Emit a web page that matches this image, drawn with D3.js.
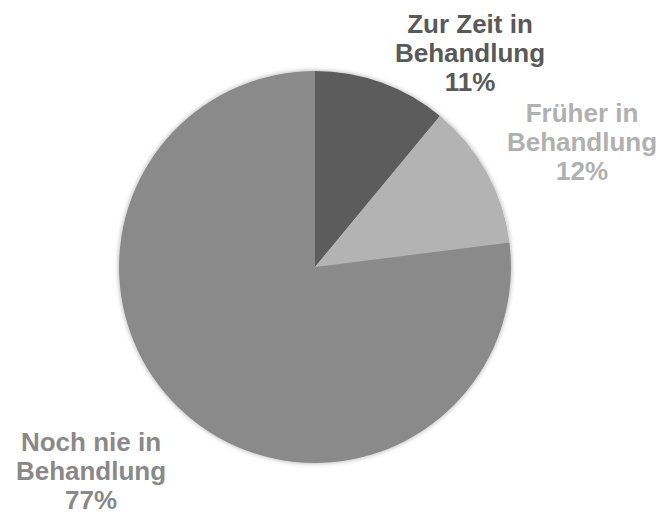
<!DOCTYPE html>
<html>
<head>
<meta charset="utf-8">
<script src="https://cdn.jsdelivr.net/npm/d3@7"></script>
<style>
  html, body { margin: 0; padding: 0; background: #fff; }
  svg { display: block; }
</style>
</head>
<body>
<svg id="chart" width="661" height="514"></svg>
<script>
// Treatment status shares (%)
const categories = ["Zur Zeit in Behandlung", "Früher in Behandlung", "Noch nie in Behandlung"];
const labelLines = [["Zur Zeit in", "Behandlung"], ["Früher in", "Behandlung"], ["Noch nie in", "Behandlung"]];
const values = [11, 12, 77];
const sliceColors = ["#5c5c5c", "#b3b3b3", "#8a8a8a"];
const labelColors = ["#595959", "#b0b0b0", "#898989"];
// label anchor (centre x, first baseline y)
const labelPos = [[470, 33], [582, 122], [91, 451]];

const svg = d3.select("#chart");
const cx = 315, cy = 267, r = 196;

const defs = svg.append("defs");
const f = defs.append("filter").attr("id", "shadow")
  .attr("x", "-10%").attr("y", "-10%").attr("width", "120%").attr("height", "120%");
f.append("feGaussianBlur").attr("in", "SourceAlpha").attr("stdDeviation", 2.5).attr("result", "b");
f.append("feComponentTransfer").attr("in", "b").attr("result", "s")
  .append("feFuncA").attr("type", "linear").attr("slope", 0.35);
const m = f.append("feMerge");
m.append("feMergeNode").attr("in", "s");
m.append("feMergeNode").attr("in", "SourceGraphic");

const pie = d3.pie().sort(null).value(d => d)(values);
const arc = d3.arc().innerRadius(0).outerRadius(r);

const g = svg.append("g").attr("transform", `translate(${cx},${cy})`);
g.append("g").attr("filter", "url(#shadow)")
  .selectAll("path").data(pie).join("path")
  .attr("d", arc)
  .attr("fill", (d, i) => sliceColors[i]);

const lh = 29;
values.forEach((v, i) => {
  const t = svg.append("text")
    .attr("text-anchor", "middle")
    .style("font-family", "'Liberation Sans', Arial, sans-serif")
    .style("font-weight", "bold")
    .style("font-size", "26px")
    .attr("fill", labelColors[i]);
  const lines = labelLines[i].concat([v + "%"]);
  lines.forEach((s, k) => {
    t.append("tspan").attr("x", labelPos[i][0]).attr("y", labelPos[i][1] + k * lh).text(s);
  });
});
</script>
</body>
</html>
